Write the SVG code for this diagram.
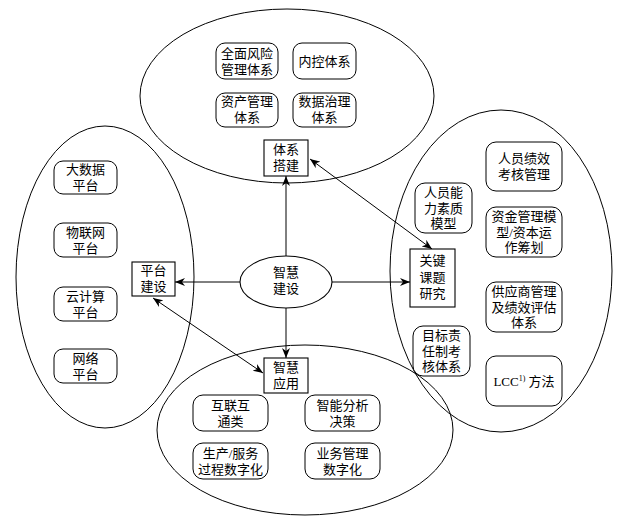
<svg xmlns="http://www.w3.org/2000/svg" width="621" height="530" viewBox="0 0 621 530">
<style>
.el{fill:none;stroke:#000;stroke-width:1}
.bx{fill:#fff;stroke:#000;stroke-width:1.1}
.rb{fill:#fff;stroke:#000;stroke-width:1}
.c{fill:none;stroke:#000;stroke-width:1}
text{font-family:"Liberation Serif","Noto Sans CJK SC",serif;font-size:13px;text-anchor:middle;fill:#000}
</style>
<defs>
<marker id="ah" viewBox="0 0 10 8" refX="10" refY="4" markerWidth="10" markerHeight="8" markerUnits="userSpaceOnUse" orient="auto-start-reverse">
<path d="M0,0 L10,4 L0,8 L3,4 z" fill="#000"/>
</marker>
</defs>
<rect width="621" height="530" fill="#fff"/>

<g id="cluster-top">
<ellipse class="el" cx="287" cy="96" rx="147" ry="87"/>
<rect class="rb" x="216" y="43" width="62" height="36" rx="9"/>
<text x="247" y="57.5">全面风险</text><text x="247" y="73.5">管理体系</text>
<rect class="rb" x="293" y="43" width="63" height="36" rx="9"/>
<text x="324.5" y="65.5">内控体系</text>
<rect class="rb" x="216" y="93" width="62" height="34" rx="9"/>
<text x="247" y="106">资产管理</text><text x="247" y="122">体系</text>
<rect class="rb" x="293" y="93" width="63" height="34" rx="9"/>
<text x="324.5" y="106">数据治理</text><text x="324.5" y="122">体系</text>
</g>

<g id="cluster-left">
<ellipse class="el" cx="105" cy="277" rx="89" ry="151"/>
<rect class="rb" x="54" y="161" width="63" height="33" rx="9"/>
<text x="85.5" y="174">大数据</text><text x="85.5" y="190">平台</text>
<rect class="rb" x="54" y="223" width="63" height="34" rx="9"/>
<text x="85.5" y="236.5">物联网</text><text x="85.5" y="252.5">平台</text>
<rect class="rb" x="54" y="287" width="63" height="34" rx="9"/>
<text x="85.5" y="300.5">云计算</text><text x="85.5" y="316.5">平台</text>
<rect class="rb" x="54" y="349" width="63" height="34" rx="9"/>
<text x="85.5" y="362.5">网络</text><text x="85.5" y="378.5">平台</text>
</g>

<g id="cluster-right">
<ellipse class="el" cx="501" cy="271" rx="111" ry="161"/>
<rect class="rb" x="486" y="142" width="76" height="49" rx="10"/>
<text x="524" y="163">人员绩效</text><text x="524" y="179">考核管理</text>
<rect class="rb" x="486" y="207" width="76" height="50" rx="10"/>
<text x="524" y="221">资金管理模</text><text x="524" y="236.5">型/资本运</text><text x="524" y="252">作筹划</text>
<rect class="rb" x="486" y="282" width="76" height="50" rx="10"/>
<text x="524" y="296">供应商管理</text><text x="524" y="311.5">及绩效评估</text><text x="524" y="327">体系</text>
<rect class="rb" x="486" y="356" width="76" height="50" rx="10"/>
<text x="524" y="385.5">LCC<tspan font-size="8" dy="-5">1)</tspan><tspan dy="5"> 方法</tspan></text>
<rect class="rb" x="415" y="183" width="57" height="50" rx="10"/>
<text x="443.5" y="197">人员能</text><text x="443.5" y="212.5">力素质</text><text x="443.5" y="228">模型</text>
<rect class="rb" x="413" y="326" width="57" height="50" rx="10"/>
<text x="441.5" y="340">目标责</text><text x="441.5" y="355.5">任制考</text><text x="441.5" y="371">核体系</text>
</g>

<g id="cluster-bottom">
<ellipse class="el" cx="305" cy="430" rx="148" ry="85"/>
<rect class="rb" x="193" y="395" width="75" height="36" rx="10"/>
<text x="230.5" y="409.5">互联互</text><text x="230.5" y="425.5">通类</text>
<rect class="rb" x="305" y="395" width="75" height="36" rx="10"/>
<text x="342.5" y="409.5">智能分析</text><text x="342.5" y="425.5">决策</text>
<rect class="rb" x="193" y="443" width="75" height="36" rx="10"/>
<text x="230.5" y="457.5">生产/服务</text><text x="230.5" y="473.5">过程数字化</text>
<rect class="rb" x="305" y="443" width="75" height="36" rx="10"/>
<text x="342.5" y="457.5">业务管理</text><text x="342.5" y="473.5">数字化</text>
</g>

<g id="connectors">
<line class="c" x1="286" y1="257" x2="286" y2="176" marker-end="url(#ah)"/>
<line class="c" x1="240" y1="282" x2="175" y2="282" marker-end="url(#ah)"/>
<line class="c" x1="332" y1="282" x2="410" y2="282" marker-end="url(#ah)"/>
<line class="c" x1="286" y1="308" x2="286" y2="358" marker-end="url(#ah)"/>
<line class="c" x1="310" y1="159" x2="432" y2="249" marker-start="url(#ah)" marker-end="url(#ah)"/>
<line class="c" x1="153" y1="298" x2="263" y2="373" marker-start="url(#ah)" marker-end="url(#ah)"/>
</g>

<g id="node-center">
<ellipse class="bx" cx="286" cy="282" rx="46" ry="26"/>
<text x="286" y="277">智慧</text><text x="286" y="293">建设</text>
</g>
<g id="node-tixi">
<rect class="bx" x="264" y="140" width="44" height="36"/>
<text x="286" y="154">体系</text><text x="286" y="170">搭建</text>
</g>
<g id="node-pingtai">
<rect class="bx" x="132" y="262" width="43" height="34"/>
<text x="153.5" y="275">平台</text><text x="153.5" y="291">建设</text>
</g>
<g id="node-guanjian">
<rect class="bx" x="410" y="249" width="45" height="58"/>
<text x="432.5" y="265">关键</text><text x="432.5" y="281.5">课题</text><text x="432.5" y="298">研究</text>
</g>
<g id="node-yingyong">
<rect class="bx" x="264" y="358" width="44" height="35"/>
<text x="286" y="371.5">智慧</text><text x="286" y="387.5">应用</text>
</g>
</svg>
